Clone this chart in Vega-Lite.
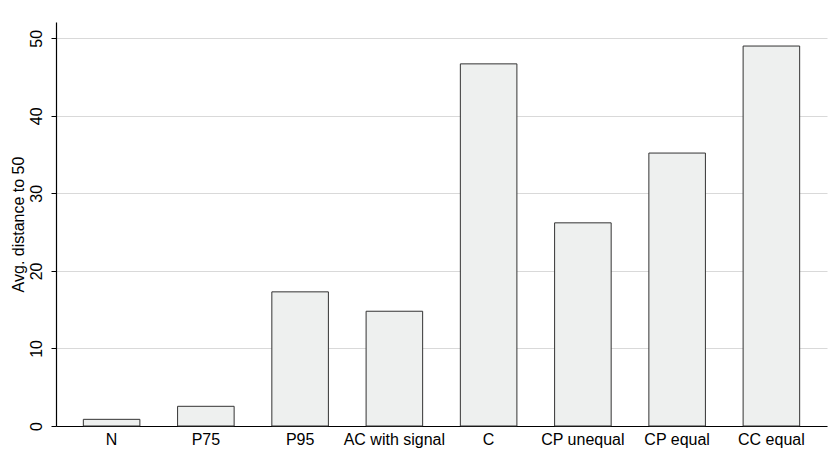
{
  "$schema": "https://vega.github.io/schema/vega-lite/v6.json",
  "autosize": {"type": "none"},
  "width": 771,
  "height": 404,
  "padding": {"left": 56, "top": 22, "right": 1, "bottom": 23},
  "background": "white",
  "config": {
    "view": {"stroke": null},
    "font": "Liberation Sans",
    "axis": {"labelFont": "Liberation Sans", "titleFont": "Liberation Sans", "labelColor": "#000", "titleColor": "#000", "labelFontSize": 16, "titleFontSize": 16, "titleFontWeight": "normal"}
  },
  "data": {
    "values": [
      {"group": "N", "value": 0.86},
      {"group": "P75", "value": 2.54},
      {"group": "P95", "value": 17.3},
      {"group": "AC with signal", "value": 14.8},
      {"group": "C", "value": 46.7},
      {"group": "CP unequal", "value": 26.2},
      {"group": "CP equal", "value": 35.2},
      {"group": "CC equal", "value": 49.0}
    ]
  },
  "mark": {"type": "bar", "fill": "#eef0ef", "stroke": "#333333", "strokeWidth": 1},
  "encoding": {
    "x": {
      "field": "group", "type": "nominal", "sort": null,
      "scale": {"paddingInner": 0.4, "paddingOuter": 0.29},
      "axis": {"title": null, "labelAngle": 0, "ticks": false, "labelPadding": 5, "domainColor": "#000", "domainWidth": 1.2, "grid": false}
    },
    "y": {
      "field": "value", "type": "quantitative",
      "scale": {"domain": [0, 52.1], "nice": false, "zero": true},
      "axis": {
        "title": "Avg. distance to 50",
        "values": [0, 10, 20, 30, 40, 50],
        "labelAngle": 270, "labelAlign": "center", "labelBaseline": "bottom",
        "labelPadding": 7,
        "tickSize": 5, "tickColor": "#000", "domainColor": "#000", "domainWidth": 1.2,
        "grid": true, "gridColor": "#d9d9d9", "gridWidth": 1,
        "titlePadding": 2
      }
    }
  }
}
